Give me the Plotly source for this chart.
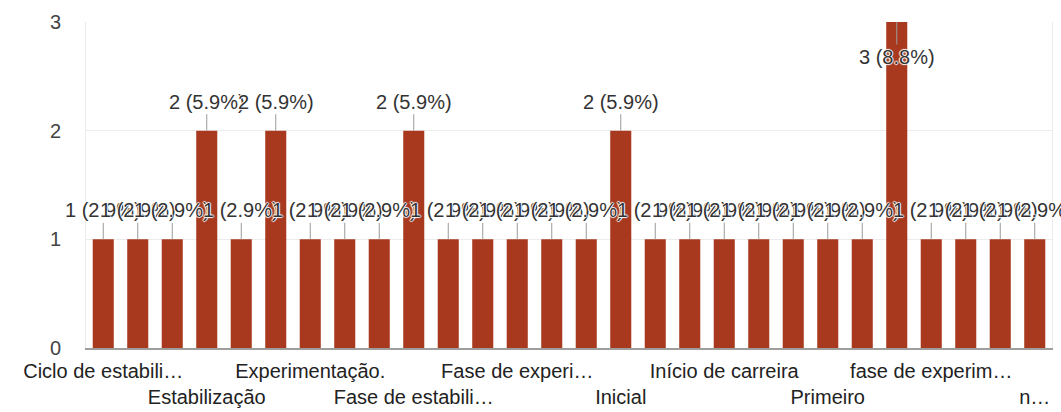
import plotly.graph_objects as go

# Data
positions = list(range(1, 29))
values = [1, 1, 1, 2, 1, 2, 1, 1, 1, 2, 1, 1, 1, 1, 1, 2, 1, 1, 1, 1, 1, 1, 1, 3, 1, 1, 1, 1]
tick_positions = [1, 4, 7, 10, 13, 16, 19, 22, 25, 28]
tick_labels = ["Ciclo de estabili…", "Estabilização", "Experimentação.", "Fase de estabili…",
               "Fase de experi…", "Inicial", "Início de carreira", "Primeiro",
               "fase de experim…", "n…"]

total = sum(values)
bar_color = "#A8391F"
font_family = "Liberation Sans, Arial, sans-serif"

fig = go.Figure()
fig.add_trace(go.Bar(x=positions, y=values, marker_color=bar_color, width=0.61,
                     marker_line_width=0, hoverinfo="skip"))

halo = "1px 0 1px #fff, -1px 0 1px #fff, 0 1px 1px #fff, 0 -1px 1px #fff"
for xp, v in zip(positions, values):
    label = f"{v} ({v / total * 100:.1f}%)"
    below = v >= 3
    fig.add_annotation(x=xp, y=v, xref="x", yref="y", text=label,
                       showarrow=True, arrowhead=0, arrowwidth=1, arrowcolor="#9a9a9a",
                       ax=0, ay=(35 if below else -29),
                       font=dict(size=20, color="#333333", family=font_family, shadow=halo))

ticktext = [("<br>" + t) if i % 2 else t for i, t in enumerate(tick_labels)]

fig.update_layout(
    width=1061, height=412,
    margin=dict(l=86, r=9, t=22, b=64),
    paper_bgcolor="white", plot_bgcolor="white",
    showlegend=False,
    font=dict(family=font_family, size=20, color="#222222"),
    xaxis=dict(range=[0.5, 28.5], tickmode="array", tickvals=tick_positions, ticktext=ticktext,
               showgrid=False, zeroline=False, showline=True, linecolor="#9e9e9e", linewidth=2,
               ticks="", tickangle=0, ticklabelstandoff=4, automargin=False,
               tickfont=dict(size=20, color="#222222")),
    yaxis=dict(range=[0, 3], tickvals=[0, 1, 2, 3], showgrid=True, gridcolor="#ececec",
               zeroline=False, showline=True, mirror=True, linecolor="#ececec",
               ticks="outside", ticklen=20, tickcolor="rgba(0,0,0,0)", automargin=False,
               tickfont=dict(size=20, color="#444444")),
)

fig.write_html("out.html")
